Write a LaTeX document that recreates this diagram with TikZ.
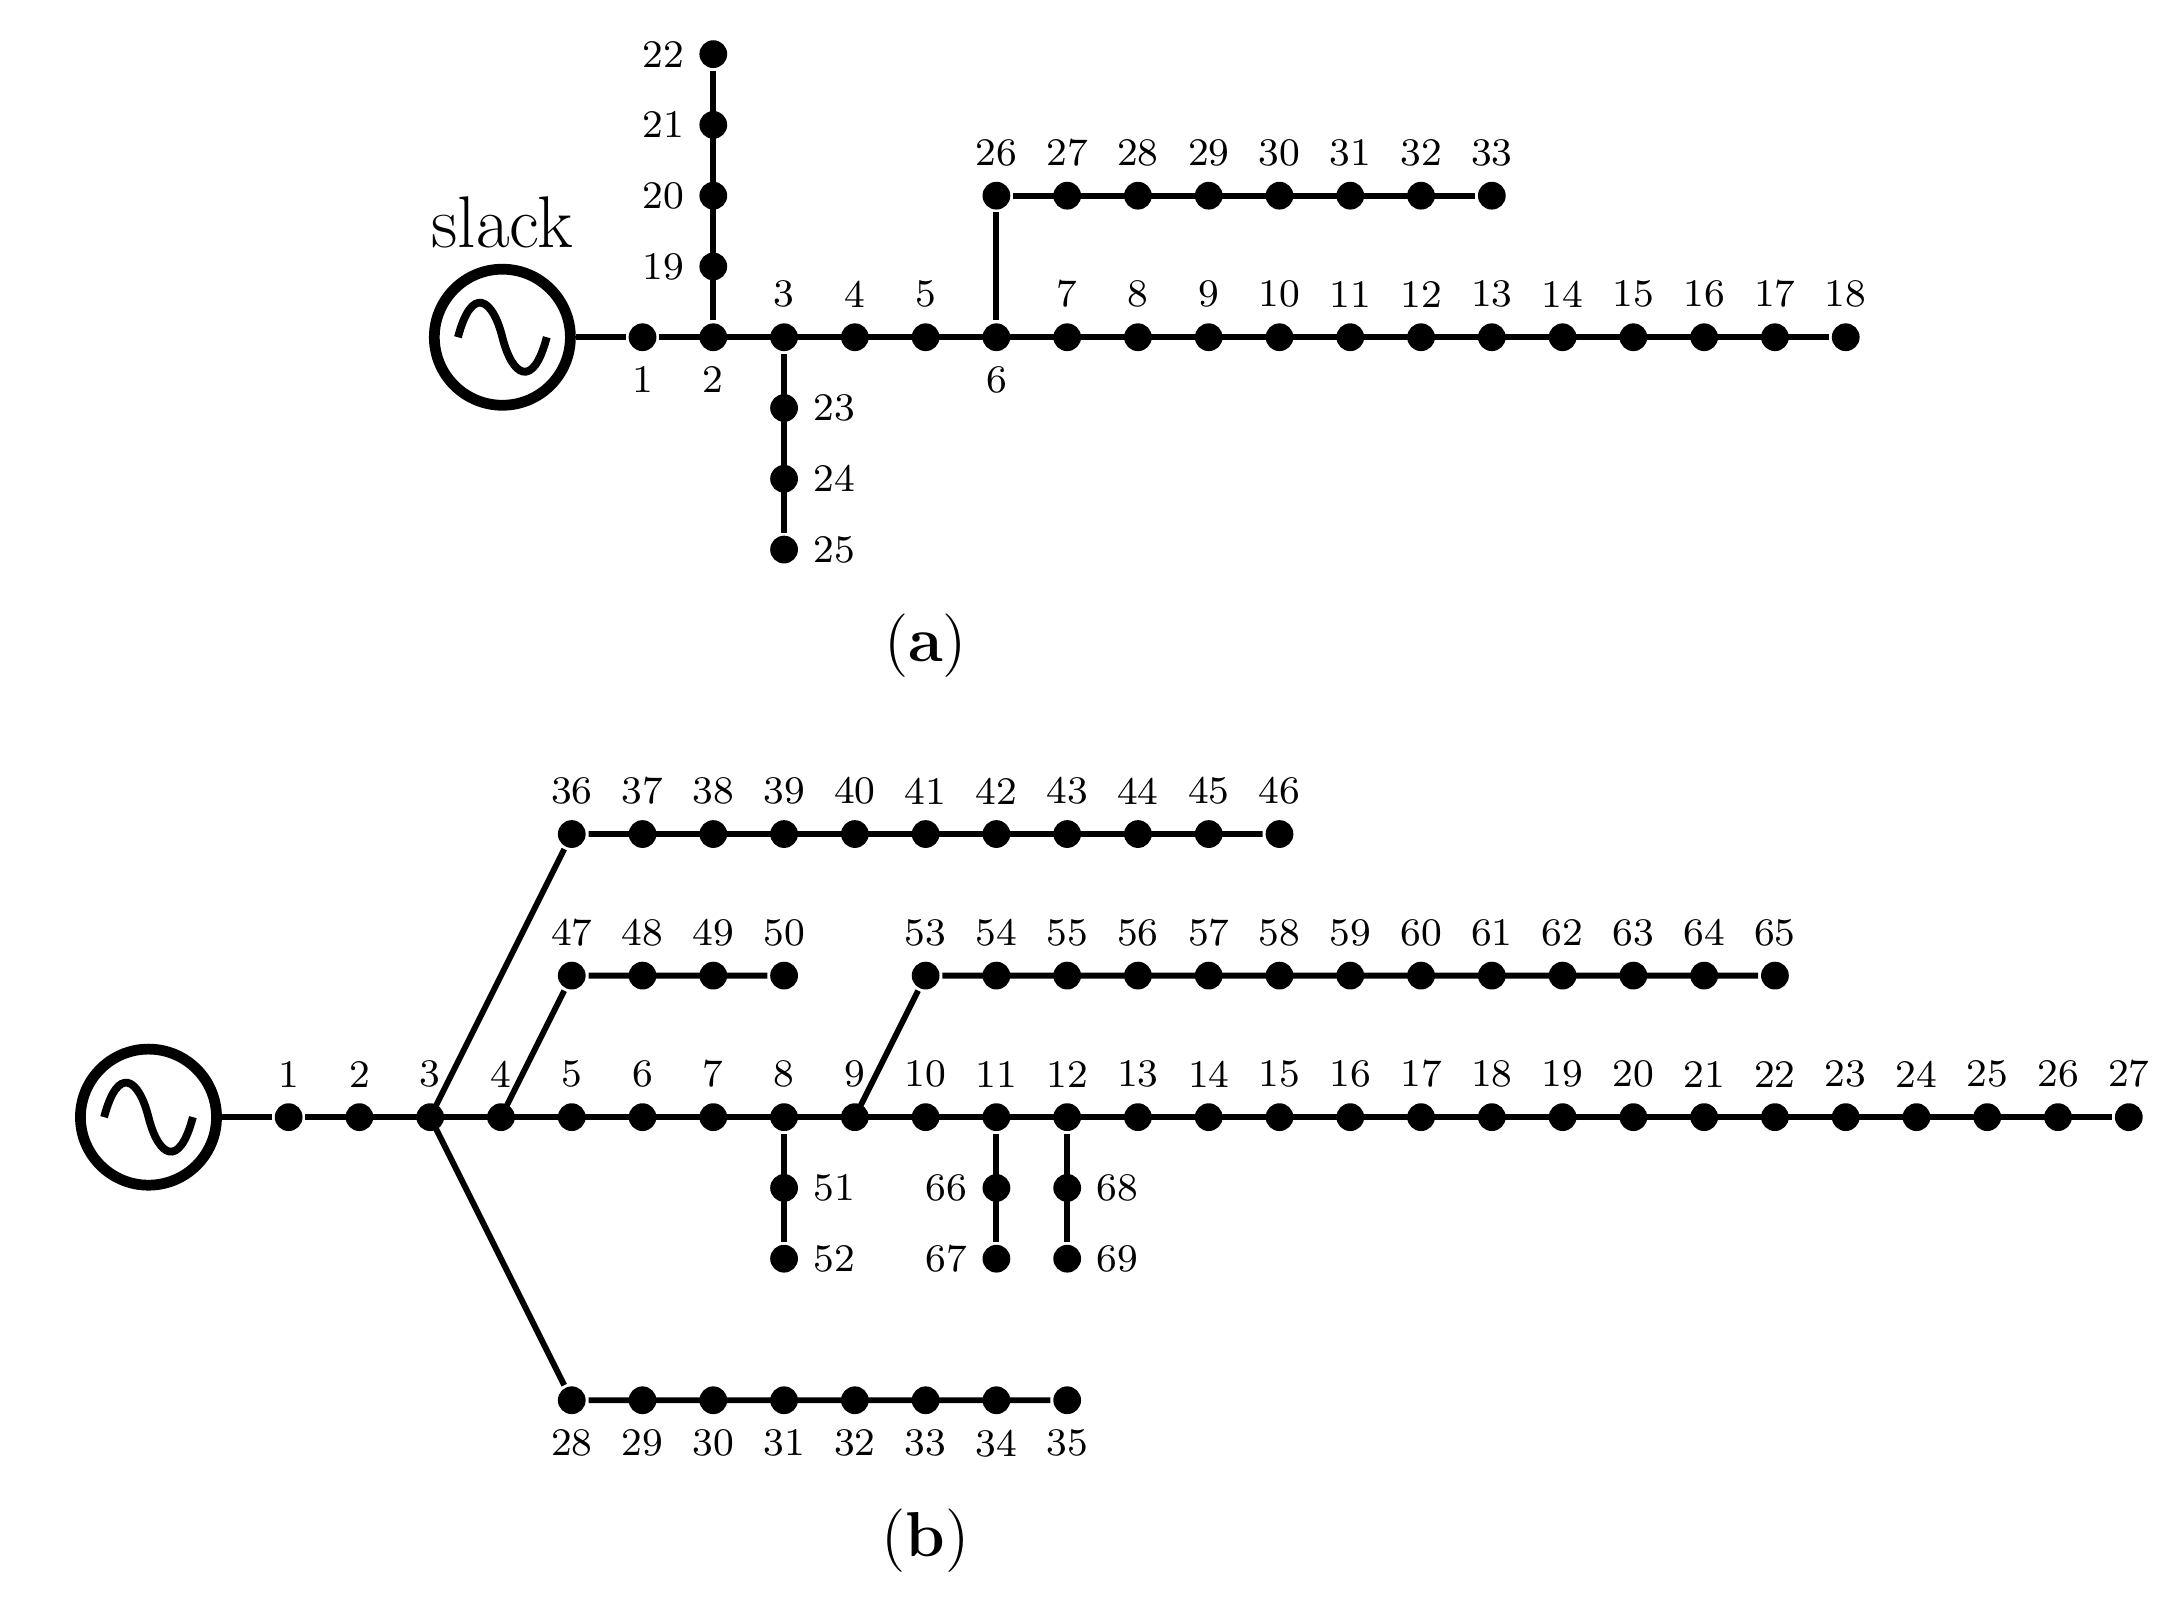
\documentclass[tikz,border=0pt]{standalone}
\usetikzlibrary{positioning}
\begin{document}
\begin{tikzpicture}[x=0.01cm,y=-0.01cm,line width=1.2pt,
  every label/.style={font=\fontsize{8}{9}\selectfont,inner sep=1pt,label distance=1pt},
  bus/.style={circle,fill=black,inner sep=0pt,minimum size=0.2cm},
  gen/.style={circle,draw,line width=2.2pt,minimum size=0.98cm}]
\useasboundingbox (0,0) rectangle (1568,1154);
% (a)
\node[gen] (ga) at (362,243) {};
\draw[line width=1.6pt] (330,243) .. controls (340,205) and (355,215) .. (362,243) .. controls (369,271) and (384,281) .. (394,243);
\node[font=\fontsize{15}{16}\selectfont] at (362,160) {slack};
\foreach \i in {1,...,18}{
  \ifnum\i=1 \def\pos{below}\else\ifnum\i=2 \def\pos{below}\else\ifnum\i=6 \def\pos{below}\else\def\pos{above}\fi\fi\fi
  \node[bus,label={\pos:\i}] (a\i) at ({463+51*(\i-1)},243) {};}
\foreach \i in {19,...,22} \node[bus,label={left:\i}] (a\i) at (514,{192-51*(\i-19)}) {};
\foreach \i in {23,...,25} \node[bus,label={right:\i}] (a\i) at (565,{294+51*(\i-23)}) {};
\foreach \i in {26,...,33} \node[bus,label={above:\i}] (a\i) at ({718+51*(\i-26)},141) {};
\draw (ga) -- (a1) -- (a18);
\draw (a2) -- (a22);
\draw (a3) -- (a25);
\draw (a6) -- (a26) -- (a33);
\node[font=\fontsize{13}{14}\selectfont] (capa) at (667,465) {(\textbf{a})};
% (b)
\node[gen] (gb) at (107,805) {};
\draw[line width=1.6pt] (75,805) .. controls (85,767) and (100,777) .. (107,805) .. controls (114,833) and (129,843) .. (139,805);
\foreach \i in {1,...,27} \node[bus,label={above:\i}] (b\i) at ({208+51*(\i-1)},805) {};
\foreach \i in {36,...,46} \node[bus,label={above:\i}] (b\i) at ({412+51*(\i-36)},601) {};
\foreach \i in {47,...,50} \node[bus,label={above:\i}] (b\i) at ({412+51*(\i-47)},703) {};
\foreach \i in {53,...,65} \node[bus,label={above:\i}] (b\i) at ({667+51*(\i-53)},703) {};
\foreach \i in {28,...,35} \node[bus,label={below:\i}] (b\i) at ({412+51*(\i-28)},1009) {};
\node[bus,label={right:51}] (b51) at (565,856) {};
\node[bus,label={right:52}] (b52) at (565,907) {};
\node[bus,label={left:66}] (b66) at (718,856) {};
\node[bus,label={left:67}] (b67) at (718,907) {};
\node[bus,label={right:68}] (b68) at (769,856) {};
\node[bus,label={right:69}] (b69) at (769,907) {};
\draw (gb) -- (b1) -- (b27);
\draw (b3.center) -- (b36) -- (b46);
\draw (b3.center) -- (b28) -- (b35);
\draw (b4.center) -- (b47) -- (b50);
\draw (b9.center) -- (b53) -- (b65);
\draw (b8) -- (b52);
\draw (b11) -- (b67);
\draw (b12) -- (b69);
\node[font=\fontsize{13}{14}\selectfont] (capb) at (667,1110) {(\textbf{b})};
\end{tikzpicture}
\end{document}
